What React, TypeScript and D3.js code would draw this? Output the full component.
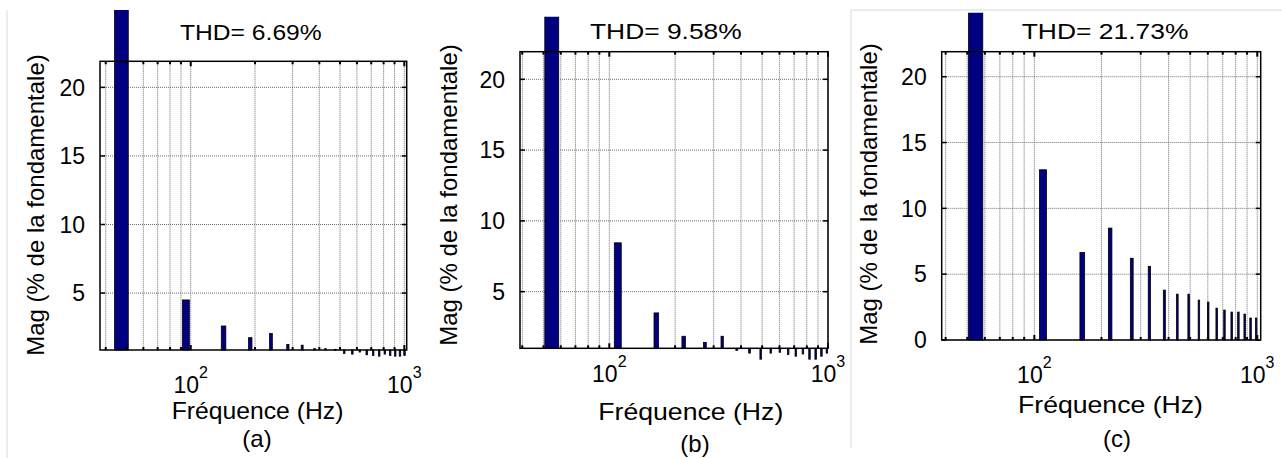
import React from "react";
import * as d3 from "d3";

// ---------- data ----------
const freqA = [47.5, 95, 142.5, 190, 237.5, 285, 332.5, 380, 427.5, 475, 522.5, 570, 617.5, 665, 712.5, 760, 807.5, 855, 902.5, 950, 997.5];
const magA = [100, 4.5, 2.6, 1.75, 2.05, 1.25, 1.2, 0.95, 0.95, 0.9, 0.6, 0.55, 0.7, 0.5, 0.45, 0.4, 0.55, 0.45, 0.4, 0.4, 0.45];

const freqBC = [54.7, 109.4, 164.1, 218.8, 273.5, 328.2, 382.9, 437.6, 492.3, 547, 601.7, 656.4, 711.1, 765.8, 820.5, 875.2, 929.9, 984.6];
const magB = [100, 8.45, 3.5, 1.85, 1.42, 1.85, 0.86, 0.66, 0.23, 0.66, 0.72, 0.56, 0.44, 0.6, 0.23, 0.23, 0.44, 0.66];
const magC = [100, 12.93, 6.64, 8.5, 6.21, 5.6, 3.79, 3.48, 3.48, 3.03, 2.88, 2.42, 2.27, 2.12, 2.12, 1.97, 1.67, 1.67];

const thdLabels = ["THD= 6.69%", "THD= 9.58%", "THD= 21.73%"];
const panelLabels = ["(a)", "(b)", "(c)"];
const yTicksAB = [5, 10, 15, 20];
const yTicksC = [0, 5, 10, 15, 20];
const xMajorTicks = [100, 1000];
const xMinorTicks = [40, 50, 60, 70, 80, 90, 200, 300, 400, 500, 600, 700, 800, 900];
const xTickExp = ["2", "3"];
const xLabel = "Fréquence (Hz)";
const yLabel = "Mag (% de la fondamentale)";

// ---------- layout ----------
const panels = [
  {
    freqs: freqA, mags: magA, thd: thdLabels[0], label: panelLabels[0], yTicks: yTicksAB,
    left: 100, right: 406.7, top: 61.3, bottom: 350, xDom: [37.6, 1026], yDom: [0.85, 21.9],
    barW: 7, clipTop: 10, tickY: 392.5, titleX: 180, titleW: 141.7, titleY: 40,
    xlX: 171.7, xlW: 171.7, xlY: 419, ylX: 44, ylY: 205, plX: 257, plY: 446.7,
  },
  {
    freqs: freqBC, mags: magB, thd: thdLabels[1], label: panelLabels[1], yTicks: yTicksAB,
    left: 520, right: 828, top: 51.7, bottom: 348.3, xDom: [39.05, 1000], yDom: [1.0, 21.95],
    barW: 8, clipTop: 16.7, tickY: 381.7, titleX: 590, titleW: 151.7, titleY: 39.3,
    xlX: 598.3, xlW: 185, xlY: 420, ylX: 457, ylY: 195, plX: 695, plY: 451.7,
  },
  {
    freqs: freqBC, mags: magC, thd: thdLabels[2], label: panelLabels[2], yTicks: yTicksC,
    left: 941.7, right: 1260.7, top: 51.7, bottom: 340, xDom: [38.4, 1036], yDom: [0, 21.9],
    barW: 8, clipTop: 12.7, tickY: 383, titleX: 1021.7, titleW: 166.7, titleY: 39.3,
    xlX: 1018, xlW: 185, xlY: 412.5, ylX: 877, ylY: 194, plX: 1117, plY: 446.7,
  },
];

const FONT = "'Liberation Sans', Arial, sans-serif";
const BAR_FILL = "#000080";
const GRID = "#6e6e6e";

function Panel({ p, idx }: { p: any; idx: number }) {
  const x = d3.scaleLog().domain(p.xDom).range([p.left, p.right]);
  const y = d3.scaleLinear().domain(p.yDom).range([p.bottom, p.top]);
  const base = p.yDom[0];
  const clipId = `clip-${idx}`;
  const allX = [...xMinorTicks, ...xMajorTicks].filter((v) => v >= p.xDom[0] && v <= p.xDom[1]);
  return (
    <g>
      <defs>
        <clipPath id={clipId}>
          <rect x={p.left - 20} y={p.clipTop} width={p.right - p.left + 40} height={458 - p.clipTop} />
        </clipPath>
      </defs>
      {/* grid */}
      {allX.map((v) => (
        <line key={"gx" + v} x1={x(v)} x2={x(v)} y1={p.top} y2={p.bottom}
          stroke={GRID} strokeWidth={1} strokeDasharray="1,1" />
      ))}
      {p.yTicks.map((v: number) => (
        <line key={"gy" + v} x1={p.left} x2={p.right} y1={y(v)} y2={y(v)}
          stroke={GRID} strokeWidth={1} strokeDasharray="1,1" />
      ))}
      {/* bars */}
      <g clipPath={`url(#${clipId})`}>
        {p.freqs.map((f: number, i: number) => {
          const v = p.mags[i];
          const x0 = x(f - p.barW / 2);
          const x1 = x(f + p.barW / 2);
          const yTop = y(Math.max(v, base));
          const yBot = y(Math.min(v, base));
          return (
            <rect key={"b" + i} x={x0} y={yTop} width={Math.max(x1 - x0, 1.5)} height={Math.max(yBot - yTop, 1)}
              fill={BAR_FILL} stroke="#000" strokeWidth={0.8} />
          );
        })}
      </g>
      {/* axis box */}
      <rect x={p.left} y={p.top} width={p.right - p.left} height={p.bottom - p.top}
        fill="none" stroke="#000" strokeWidth={1.5} />
      {/* x ticks (inward, top & bottom) */}
      {allX.map((v) => {
        const len = xMajorTicks.includes(v) ? 5 : 3;
        return (
          <g key={"tx" + v}>
            <line x1={x(v)} x2={x(v)} y1={p.bottom} y2={p.bottom - len} stroke="#000" strokeWidth={2} />
            <line x1={x(v)} x2={x(v)} y1={p.top} y2={p.top + len} stroke="#000" strokeWidth={2} />
          </g>
        );
      })}
      {/* y ticks */}
      {p.yTicks.map((v: number) => (
        <g key={"ty" + v}>
          <line x1={p.left} x2={p.left + 5} y1={y(v)} y2={y(v)} stroke="#000" strokeWidth={1.5} />
          <line x1={p.right} x2={p.right - 5} y1={y(v)} y2={y(v)} stroke="#000" strokeWidth={1.5} />
          <text x={p.left - 15} y={y(v)} dy="0.36em" textAnchor="end" fontSize={23} fontFamily={FONT}>
            {v}
          </text>
        </g>
      ))}
      {/* x tick labels */}
      {xMajorTicks.map((v, i) => (
        <text key={"xl" + v} x={x(v)} y={p.tickY} textAnchor="middle" fontSize={23} fontFamily={FONT}>
          <tspan>10</tspan>
          <tspan dy={-15} fontSize={16}>{xTickExp[i]}</tspan>
        </text>
      ))}
      {/* title */}
      <text x={p.titleX} y={p.titleY} fontSize={22} fontFamily={FONT}
        textLength={p.titleW} lengthAdjust="spacingAndGlyphs">{p.thd}</text>
      {/* x label */}
      <text x={p.xlX} y={p.xlY} fontSize={24} fontFamily={FONT}
        textLength={p.xlW} lengthAdjust="spacingAndGlyphs">{xLabel}</text>
      {/* y label */}
      <text transform={`translate(${p.ylX},${p.ylY}) rotate(-90)`} textAnchor="middle"
        fontSize={24} fontFamily={FONT}>{yLabel}</text>
      {/* panel label */}
      <text x={p.plX} y={p.plY} textAnchor="middle" fontSize={24} fontFamily={FONT}>{p.label}</text>
    </g>
  );
}

export default function App() {
  return (
    <svg width={1282} height={458} style={{ position: "absolute", left: 0, top: 0, background: "#fff" }}>
      <rect x={0} y={0} width={1282} height={458} fill="#fff" />
      {/* light frame lines */}
      <line x1={7} x2={7} y1={10} y2={458} stroke="#d8d8d8" strokeWidth={1} />
      <line x1={851} x2={1282} y1={10} y2={10} stroke="#d8d8d8" strokeWidth={1} />
      <line x1={851} x2={851} y1={10} y2={448} stroke="#d8d8d8" strokeWidth={1} />
      {panels.map((p, i) => (
        <Panel key={i} p={p} idx={i} />
      ))}
    </svg>
  );
}
